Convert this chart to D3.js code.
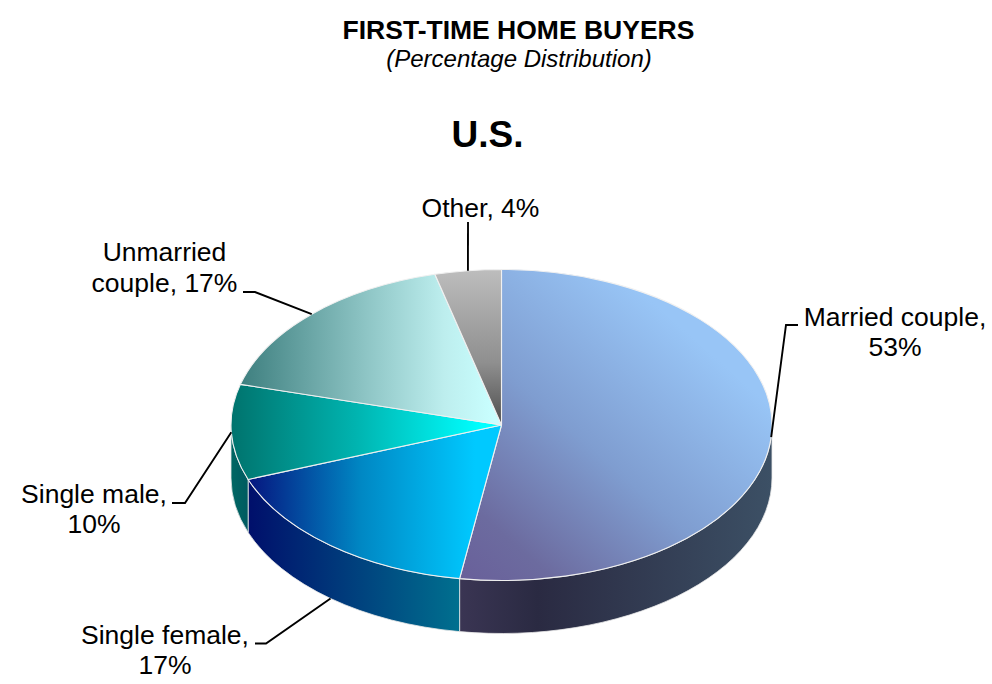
<!DOCTYPE html>
<html><head><meta charset="utf-8">
<script src="https://cdn.jsdelivr.net/npm/d3@7/dist/d3.min.js"></script>
<style>
html,body{margin:0;padding:0;background:#fff}
svg{display:block}
text{font-family:"Liberation Sans",Arial,sans-serif;fill:#000}
</style></head><body>
<script>
const categories = ["Married couple","Single female","Single male","Unmarried couple","Other"];
const values = [53,17,10,17,4];
const labelLines = [["Married couple,","53%"],["Single female,","17%"],["Single male,","10%"],["Unmarried","couple, 17%"],["Other, 4%"]];
const topStops = [
  [["0","#69609a"],["0.18","#6c6b9f"],["0.55","#7f9dd0"],["1","#98c5f6"]],
  [["0","#06157f"],["0.5","#0088c4"],["1","#00c9ff"]],
  [["0","#00736d"],["0.5","#00b4b0"],["1","#00ffff"]],
  [["0","#3e7f7f"],["0.5","#8fc6c6"],["0.8","#bdeeee"],["1","#c9ffff"]],
  [["0","#bdbdbd"],["0.6","#8f8f8f"],["1","#4d4d4d"]]
];
const sideStops = [
  [["0","#3a3553"],["0.25","#2a2a42"],["1","#3c5065"]],
  [["0","#000f6b"],["1","#00708f"]],
  [["0","#006763"],["1","#005a60"]],
  [["0","#3e7f7f"],["1","#3e7f7f"]],
  [["0","#555555"],["1","#555555"]]
];
const W=992,H=684,cx=501.5,cy=425,rx=270.5,ry=155.5,depth=53;
const svg=d3.select("body").append("svg").attr("width",W).attr("height",H);
const defs=svg.append("defs");
const pie=d3.pie().sort(null).value(d=>d);
const arcs=pie(values);
const px=a=>cx+rx*Math.sin(a), py=a=>cy-ry*Math.cos(a);
function grad(id,stops,x1,y1,x2,y2){
  const g=defs.append("linearGradient").attr("id",id).attr("gradientUnits","userSpaceOnUse")
    .attr("x1",x1).attr("y1",y1).attr("x2",x2).attr("y2",y2);
  stops.forEach(s=>g.append("stop").attr("offset",s[0]).attr("stop-color",s[1]));
}
grad("t0",topStops[0],470,585,690,335);
grad("t1",topStops[1],248,0,475,0);
grad("t2",topStops[2],231,0,482,0);
grad("t3",topStops[3],241,0,495,0);
grad("t4",topStops[4],0,269,0,425);
grad("s0",sideStops[0],460,0,772,0);
grad("s1",sideStops[1],248,0,460,0);
grad("s2",sideStops[2],231,0,248,0);
grad("s3",sideStops[3],231,0,248,0);
grad("s4",sideStops[4],231,0,248,0);

function sidePath(a0,a1){
  const large=(a1-a0)>Math.PI?1:0;
  return `M${px(a0)},${py(a0)}A${rx},${ry} 0 ${large} 1 ${px(a1)},${py(a1)}`+
    `L${px(a1)},${py(a1)+depth}A${rx},${ry} 0 ${large} 0 ${px(a0)},${py(a0)+depth}Z`;
}
function topPath(a0,a1){
  const large=(a1-a0)>Math.PI?1:0;
  return `M${cx},${cy}L${px(a0)},${py(a0)}A${rx},${ry} 0 ${large} 1 ${px(a1)},${py(a1)}Z`;
}
const g=svg.append("g");
arcs.forEach((d,i)=>{
  const a0=Math.max(d.startAngle,Math.PI/2), a1=Math.min(d.endAngle,Math.PI*1.5);
  if(a1>a0) g.append("path").attr("d",sidePath(a0,a1)).attr("fill",`url(#s${i})`)
    .attr("stroke","#e8e8e8").attr("stroke-width",0.8);
});
g.selectAll("path.top").data(arcs).join("path").attr("class","top")
  .attr("d",d=>topPath(d.startAngle,d.endAngle))
  .attr("fill",(d,i)=>`url(#t${i})`)
  .attr("stroke","#f0f0f0").attr("stroke-width",1.1).attr("stroke-linejoin","round");

// leader lines start on the rim at each slice's mid-angle
const leaderElbows=[
  {wall:false,pts:[[786,325],[798,325]]},
  {wall:true, pts:[[266,643.5],[255,643.5]]},
  {wall:false,pts:[[185,503],[172,503]]},
  {wall:false,pts:[[255,292],[243,292]]},
  {wall:false,pts:[[468,222]]}
];
arcs.forEach((d,i)=>{
  const m=(d.startAngle+d.endAngle)/2, l=leaderElbows[i];
  const p=[[px(m),py(m)+(l.wall?depth:0)]].concat(l.pts);
  svg.append("path").attr("d",d3.line()(p)).attr("fill","none").attr("stroke","#000").attr("stroke-width",1.9);
});

svg.append("text").attr("x",518.5).attr("y",38.5).attr("text-anchor","middle")
  .attr("font-size",26.5).attr("font-weight","bold").text("FIRST-TIME HOME BUYERS");
svg.append("text").attr("x",519).attr("y",66.5).attr("text-anchor","middle")
  .attr("font-size",24).attr("font-style","italic").text("(Percentage Distribution)");
svg.append("text").attr("x",487.5).attr("y",147).attr("text-anchor","middle")
  .attr("font-size",37).attr("font-weight","bold").text("U.S.");

const labelPos=[[895,325.5],[165,643.5],[94,502.5],[164.5,261],[480.5,217]];
labelLines.forEach((ls,i)=>{
  const t=svg.append("text").attr("text-anchor","middle").attr("font-size",26.5);
  ls.forEach((s,j)=>t.append("tspan").attr("x",labelPos[i][0]).attr("y",labelPos[i][1]+j*30.5).text(s));
});
</script>
</body></html>
